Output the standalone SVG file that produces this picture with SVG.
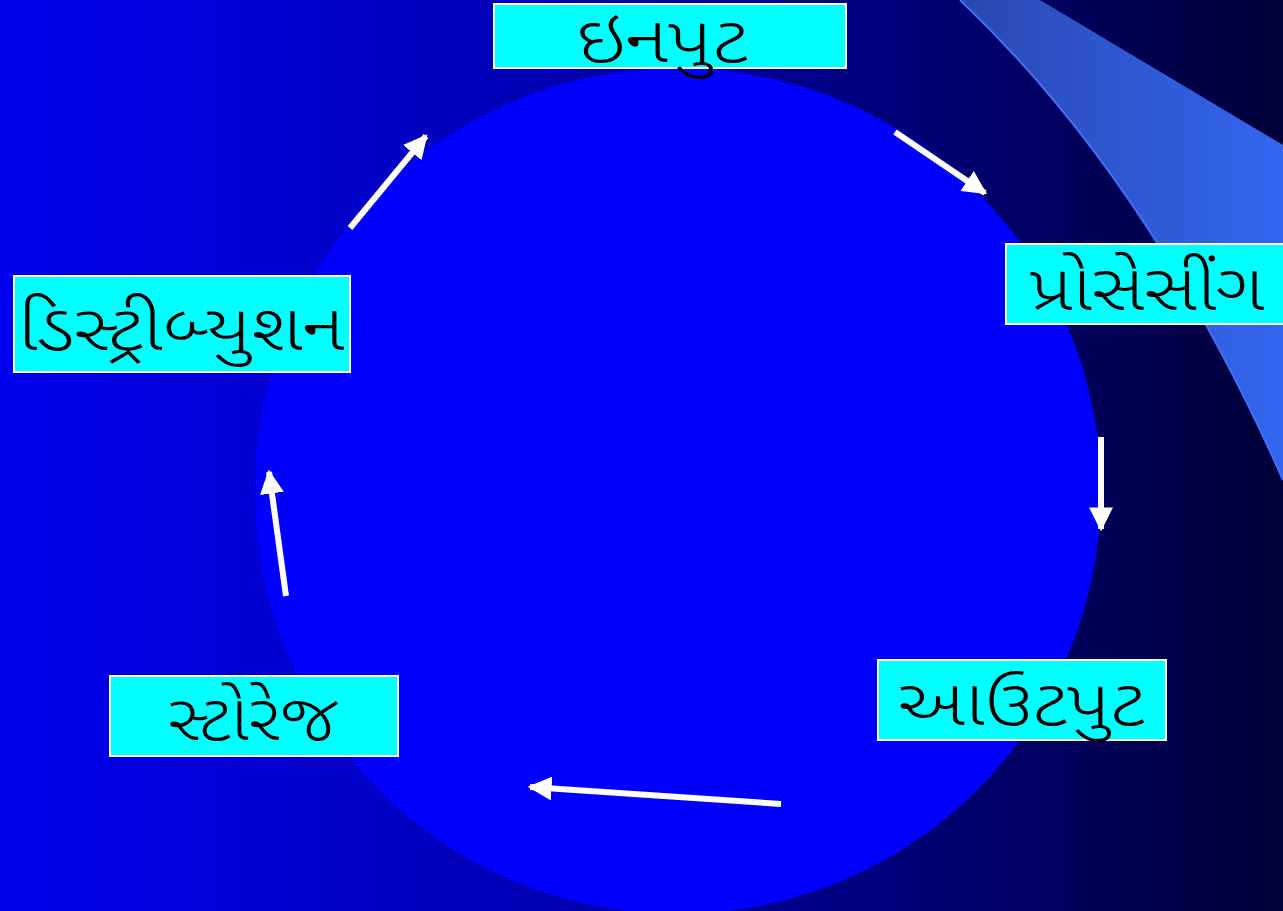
<svg xmlns="http://www.w3.org/2000/svg" width="1283" height="911" viewBox="0 0 1283 911">
<defs>
<linearGradient id="bg" x1="0" y1="0" x2="1" y2="0">
<stop offset="0" stop-color="#0000ee"/>
<stop offset="0.45" stop-color="#0000b0"/>
<stop offset="1" stop-color="#000038"/>
</linearGradient>
<linearGradient id="band" x1="960" y1="0" x2="1283" y2="0" gradientUnits="userSpaceOnUse">
<stop offset="0" stop-color="#2a48b0"/>
<stop offset="1" stop-color="#3366f0"/>
</linearGradient>
<marker id="ah" viewBox="0 0 10 10" refX="9" refY="5" markerWidth="4" markerHeight="4" orient="auto" markerUnits="strokeWidth">
<path d="M0,0 L10,5 L0,10 z" fill="#ffffff"/>
</marker>
<style>
.box{fill:#00ffff;stroke:#ffffff;stroke-width:2}
.lbl{font-family:"Noto Sans Gujarati","Lohit Gujarati","Noto Sans","DejaVu Sans",sans-serif;font-size:64px;font-weight:300;fill:#000000;text-anchor:middle}
.arr{stroke:#ffffff;stroke-width:6;fill:none;marker-end:url(#ah)}
</style>
</defs>
<rect width="1283" height="911" fill="url(#bg)"/>
<path d="M960,0 L1040,0 L1283,145 L1283,480 Q1150,180 960,0 Z" fill="url(#band)"/>
<path d="M1283,480 Q1150,180 960,0" fill="none" stroke="#4070ff" stroke-width="2"/>
<circle cx="678" cy="491" r="423" fill="#0000ff"/>
<g id="connectors">
<line class="arr" x1="350" y1="228" x2="426" y2="136"/>
<line class="arr" x1="895" y1="132" x2="985" y2="193"/>
<line class="arr" x1="1101" y1="437" x2="1101" y2="529"/>
<line class="arr" x1="781" y1="804" x2="530" y2="787"/>
<line class="arr" x1="286" y1="596" x2="269" y2="472"/>
</g>
<g id="input">
<rect class="box" x="494" y="4" width="352" height="64"/>
<text class="lbl" x="662" y="62" textLength="171" lengthAdjust="spacingAndGlyphs">ઇનપુટ</text>
</g>
<g id="processing">
<rect class="box" x="1006" y="244" width="282" height="80"/>
<text class="lbl" x="1147" y="310" textLength="235" lengthAdjust="spacingAndGlyphs">પ્રોસેસીંગ</text>
</g>
<g id="distribution">
<rect class="box" x="14" y="276" width="336" height="96"/>
<text class="lbl" x="181" y="350" textLength="327" lengthAdjust="spacingAndGlyphs">ડિસ્ટ્રીબ્યુશન</text>
</g>
<g id="storage">
<rect class="box" x="110" y="676" width="288" height="80"/>
<text class="lbl" x="253" y="740" textLength="170" lengthAdjust="spacingAndGlyphs">સ્ટોરેજ</text>
</g>
<g id="output">
<rect class="box" x="878" y="660" width="288" height="80"/>
<text class="lbl" x="1021" y="725" textLength="247" lengthAdjust="spacingAndGlyphs">આઉટપુટ</text>
</g>
</svg>
